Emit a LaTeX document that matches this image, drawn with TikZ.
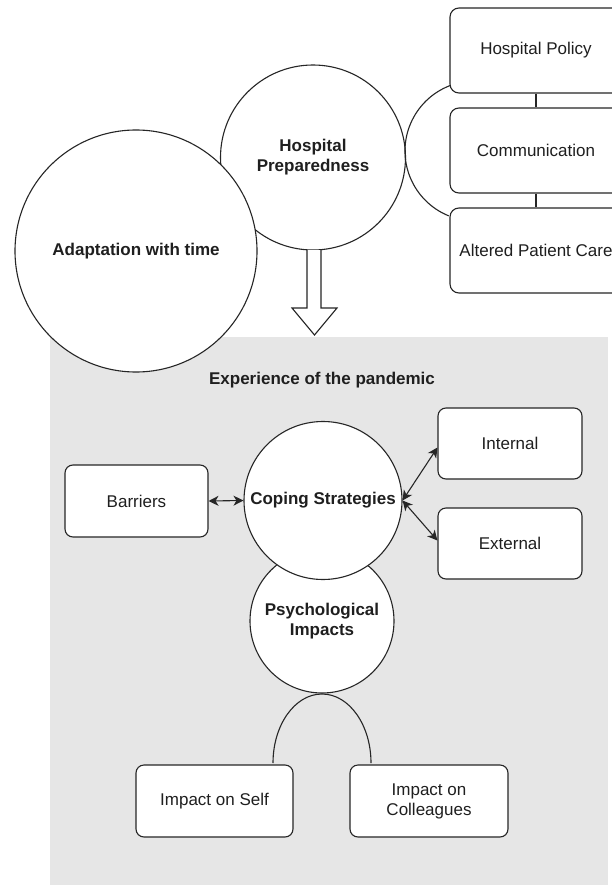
\documentclass[tikz,border=0pt]{standalone}
\usepackage{fontspec}
\setmainfont{Liberation Sans}
\usetikzlibrary{arrows.meta,calc}
\definecolor{panel}{HTML}{E6E6E6}
\definecolor{ink}{HTML}{262626}
\definecolor{txt}{HTML}{1F1F1F}
\begin{document}
\begin{tikzpicture}[x=1pt,y=-1pt,
  lbl/.style={font=\fontsize{17}{20}\selectfont, align=center, text=txt},
  blbl/.style={font=\bfseries\fontsize{17}{20}\selectfont, align=center, text=txt},
  bx/.style={lbl, draw=ink, line width=1.1pt, fill=white, rounded corners=8pt,
    minimum width=#1, minimum height=72pt, inner sep=0pt},
  bx/.default=144pt,
  topbx/.style={lbl, draw=ink, line width=1.1pt, fill=white, rounded corners=9pt,
    minimum width=172pt, minimum height=85pt, inner sep=0pt},
  circ/.style={blbl, draw=ink, line width=1.1pt, fill=white, circle,
    minimum size=#1, inner sep=0pt},
  thin/.style={draw=ink, line width=1.1pt},
  arr/.style={draw=ink, line width=1.1pt,
    arrows={Stealth[length=10pt,width=10pt,inset=3pt]-Stealth[length=10pt,width=10pt,inset=3pt]}}
]
\useasboundingbox (0,0) rectangle (612,885);
\clip (0,0) rectangle (612,885);
\fill[white] (0,0) rectangle (612,885);

% grey panel
\fill[panel] (50,337) rectangle (608,890);

% top part
\node[circ=185pt] (prep) at (313,157.5) {Hospital\\Preparedness};
\node[circ=242pt] (adapt) at (136,251) {Adaptation with time};

\draw[thin, fill=white] (307,250) -- (307,308) -- (292,308) -- (314.5,335)
  -- (337,308) -- (321,308) -- (321,250);

\draw[thin] (452.2,84.8) arc[start angle=251, end angle=112, radius=70];

\node[topbx] (policy) at (536,50.5) {Hospital Policy};
\node[topbx] (comm) at (536,150.5) {Communication};
\node[topbx] (care) at (536,250.5) {Altered Patient Care};
\draw[thin] (policy.south) -- (comm.north);
\draw[thin] (comm.south) -- (care.north);

% experience panel
\node[blbl] (title) at (322,380) {Experience of the pandemic};

\node[circ=144pt] (psych) at (322,621) {Psychological\\Impacts};
\node[circ=158pt] (cope) at (323,500.5) {Coping Strategies};

\node[bx=143pt] (barr) at (136.5,501) {Barriers};
\node[bx=144pt, minimum height=71pt] (int) at (510,443.5) {Internal};
\node[bx=144pt, minimum height=71pt] (ext) at (510,543.5) {External};

\draw[arr] (barr.east) -- (cope.west);
\draw[arr] (cope.east) -- ([yshift=-4pt]int.west);
\draw[arr] (cope.east) -- ([yshift=3pt]ext.west);

\node[bx=157pt] (self) at (214.5,801) {Impact on Self};
\node[bx=158pt] (coll) at (429,801) {Impact on\\Colleagues};

\draw[thin] (273,763) arc[start angle=180, end angle=360, x radius=49, y radius=69];
\end{tikzpicture}
\end{document}
